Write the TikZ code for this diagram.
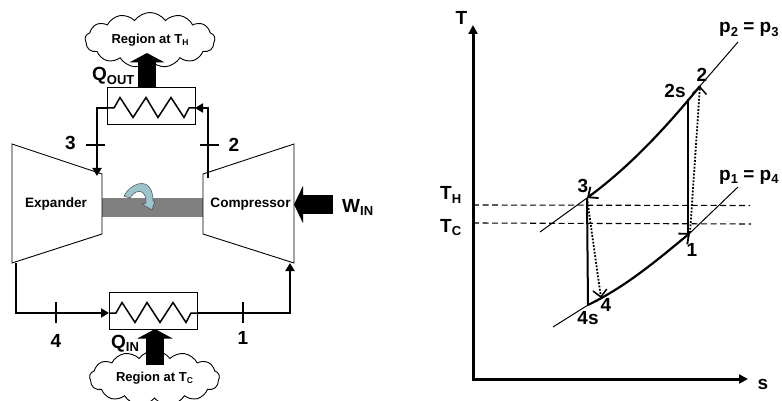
\documentclass[tikz,border=0pt]{standalone}
\usepackage{fontspec}
\usepackage{xcolor}
\usepackage{tikz}
\usetikzlibrary{arrows.meta, positioning, shapes.symbols}
\setmainfont{Liberation Sans}
\definecolor{ShaftGray}{HTML}{808080}
\definecolor{SpinBlue}{HTML}{9CC4CC}
\newcommand{\lowtxt}[1]{\raisebox{-3.5pt}{\fontsize{13}{13}\selectfont #1}}
\newcommand{\lowcld}[1]{\raisebox{-2.5pt}{\fontsize{8.5}{8.5}\selectfont #1}}

\begin{document}
\begin{tikzpicture}[
  x=1pt, y=-1pt,
  every node/.style={font=\bfseries},
  biglabel/.style={font=\fontsize{19}{19}\selectfont\bfseries, inner sep=0pt},
  machlabel/.style={font=\fontsize{13.6}{13.6}\selectfont\bfseries, inner sep=0pt},
  hxbox/.style={rectangle, draw=black, line width=0.9pt, fill=white, minimum width=88pt, minimum height=37pt, inner sep=0pt},
  region/.style={cloud, cloud puffs=13, cloud puff arc=110, cloud ignores aspect, draw=black, line width=0.9pt, fill=white, minimum width=130pt, minimum height=46pt, inner ysep=9pt, inner xsep=0pt, font=\fontsize{13}{13}\selectfont\bfseries},
  pipe/.style={line width=2.4pt},
  pipeend/.style={pipe, -{Triangle[length=8pt,width=9pt]}, shorten >=0pt},
  fatarrow/.style={line width=18pt, -{Triangle[length=9.5pt,width=35pt]}},
  ticksign/.style={line width=1.4pt},
  axisline/.style={line width=3pt, -{Triangle[length=9pt,width=9pt]}},
  thinp/.style={line width=1pt},
  thickp/.style={line width=2.2pt, -{Straight Barb[length=8pt,width=14pt,line width=1.8pt]}},
  dotline/.style={line width=1.8pt, dash pattern=on 1.8pt off 1.6pt, -{Straight Barb[length=7pt,width=14pt,line width=1.5pt,line cap=butt]}},
  templine/.style={line width=1.1pt, dash pattern=on 6pt off 3.5pt}
]
\useasboundingbox (0,0) rectangle (782,401);

% cycle schematic
\draw[fill=ShaftGray, draw=ShaftGray] (102,198) rectangle (203,216);
\draw[line width=0.9pt, fill=white] (12,144) -- (102,174) -- (102,234) -- (12,263) -- cycle;
\draw[line width=0.9pt, fill=white] (294,144) -- (203,174) -- (203,234) -- (294,263) -- cycle;
\node[machlabel] (Expander) at (56,204) {Expander};
\node[machlabel] (Compressor) at (250.5,204) {Compressor};

% shaft rotation
\draw[fill=SpinBlue, draw=black!70, line width=0.5pt] (124,196) .. controls (130,184) and (146,178) .. (151,190)
  .. controls (153,195) and (153,198) .. (153,201) -- (155,201) -- (152,210) -- (142,204) -- (146,203)
  .. controls (147,192) and (138,186) .. (130,198) -- cycle;

\node[hxbox] (HotHx) at (151,105.5) {};
\node[hxbox] (ColdHx) at (153,310.5) {};
\draw[line width=1.5pt] (107,108) -- (114,108) -- (120,97.5) -- (133,117.5) -- (146,97.5) -- (158,117.5) -- (171,97.5) -- (184,117.5) -- (189,108) -- (195,108);
\draw[line width=1.5pt] (109,313) -- (116,313) -- (122,302.5) -- (135,322.5) -- (147,302.5) -- (160,322.5) -- (173,302.5) -- (186,322.5) -- (191,313) -- (197,313);

\coordinate (HotL) at (107,108);
\coordinate (HotR) at (195,108);
\coordinate (ColdL) at (109,313);
\coordinate (ColdR) at (197,313);
\coordinate (ExpIn) at (97,176);
\coordinate (ExpOut) at (16,263);
\coordinate (CompIn) at (290,263);
\coordinate (CompOut) at (208,178);

\draw[pipeend] (HotL) -| (ExpIn);
\draw[pipeend] (CompOut) |- (HotR);
\draw[pipeend] (ExpOut) |- (ColdL);
\draw[pipeend] (ColdR) -| (CompIn);

\foreach \tx/\ty in {86/145, 200/145}
  \draw[ticksign] (\tx,\ty) -- ++(19,0);
\foreach \tx/\ty in {56/302, 243/302}
  \draw[ticksign] (\tx,\ty) -- ++(0,21);

\node[biglabel] (StateThree) at (70.5,143) {3};
\node[biglabel] (StateTwo) at (234,145) {2};
\node[biglabel] (StateFour) at (56,341) {4};
\node[biglabel] (StateOne) at (243,338) {1};

\node[region] (HotRegion) at (150,40) {Region at T\lowcld{H}};
\node[region] (ColdRegion) at (154.5,378) {Region at T\lowcld{C}};

\coordinate (HotTip) at (147,53);
\coordinate (ColdTip) at (155,329);
\coordinate (ColdTail) at (155,365);
\coordinate (WorkTail) at (333,204.5);
\coordinate (WorkTip) at (294,204.5);
\draw[fatarrow] (HotHx.north -| HotTip) -- (HotTip);
\draw[fatarrow] (ColdTail) -- (ColdTip);
\draw[fatarrow, line width=19pt, -{Triangle[length=9pt,width=37pt]}] (WorkTail) -- (WorkTip);

\node[biglabel, anchor=base west] (QOut) at (92,81) {Q\lowtxt{OUT}};
\node[biglabel, anchor=base west] (QIn) at (111,348) {Q\lowtxt{IN}};
\node[biglabel, anchor=base west] (WIn) at (342,212) {W\lowtxt{IN}};

% T-s diagram
\coordinate (Origin) at (473,379);
\coordinate (TopEnd) at (473,25);
\coordinate (RightEnd) at (748,379);
\draw[axisline] ([xshift=-1.5pt]Origin) -- (RightEnd);
\draw[axisline] ([yshift=-1.5pt]Origin) -- (TopEnd);
\node[biglabel] (AxisT) at (461.5,18) {T};
\node[biglabel] (AxisS) at (763,384) {s};
\node[biglabel, anchor=base west] (LabelTH) at (440,200) {T\lowtxt{H}};
\node[biglabel, anchor=base west] (LabelTC) at (440,232) {T\lowtxt{C}};

\coordinate (THleft) at (473,205);
\coordinate (THright) at (750,205.5);
\coordinate (TCleft) at (473,223);
\coordinate (TCright) at (751,224);
\draw[templine] (THleft) -- (THright);
\draw[templine] (TCleft) -- (TCright);

\coordinate (PtTwo) at (700,86);
\coordinate (PtTwoS) at (688,99);
\coordinate (PtThree) at (587,198);
\coordinate (PtFourS) at (588,305);
\coordinate (PtFour) at (601,298);
\coordinate (PtOne) at (690,233);
\coordinate (HighEnd) at (738,42);
\coordinate (HighStart) at (540,232);
\coordinate (LowStart) at (553,327);
\coordinate (LowEnd) at (738,187);

\draw[thinp] (HighStart) -- (PtThree);
\draw[thinp] (PtTwo) -- (HighEnd);
\draw[thinp] (LowStart) -- (PtFourS);
\draw[thinp] (PtOne) -- (LowEnd);
\draw[thickp] (PtTwo) .. controls (660,135) and (625,170) .. (PtThree);
\draw[thickp] (PtFourS) .. controls (625,287) and (655,262) .. (PtOne);
\draw[line width=2pt] (PtThree) -- (PtFourS);
\draw[line width=2pt] (PtOne -| PtTwoS) -- (PtTwoS);
\draw[dotline] (PtOne) -- (PtTwo);
\draw[dotline] (PtThree) -- (PtFour);

\node[biglabel] (NumTwo) at (702,75) {2};
\node[biglabel] (NumTwoS) at (675,91) {2s};
\node[biglabel] (NumThree) at (583,186) {3};
\node[biglabel] (NumOne) at (692,250) {1};
\node[biglabel] (NumFour) at (606,305) {4};
\node[biglabel] (NumFourS) at (588,318) {4s};
\node[biglabel, anchor=base west] (HighP) at (719,33) {p\lowtxt{2} = p\lowtxt{3}};
\node[biglabel, anchor=base west] (LowP) at (719,180) {p\lowtxt{1} = p\lowtxt{4}};
\end{tikzpicture}
\end{document}
